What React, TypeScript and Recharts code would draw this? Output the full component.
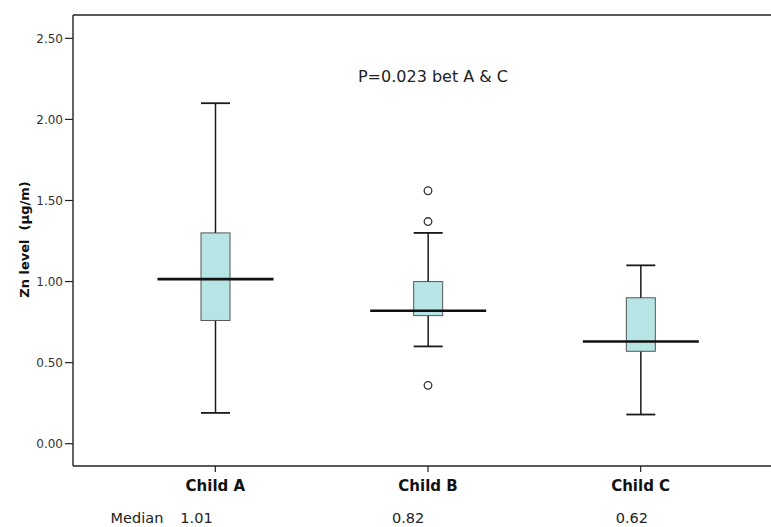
import React from 'react';
import { ComposedChart, Bar, Line, XAxis, YAxis, ReferenceLine, Customized } from 'recharts';

const CATEGORIES = ['Child A', 'Child B', 'Child C'];
const MIN_VALUES = [0.19, 0.6, 0.18];
const Q1_VALUES = [0.76, 0.79, 0.57];
const MEDIAN_VALUES = [1.015, 0.82, 0.63];
const Q3_VALUES = [1.3, 1.0, 0.9];
const MAX_VALUES = [2.1, 1.3, 1.1];
const MEDIAN_LABELS = ['1.01', '0.82', '0.62'];
const OUTLIER_1 = [null, 1.56, null];
const OUTLIER_2 = [null, 1.37, null];
const OUTLIER_3 = [null, 0.36, null];
const Y_TICKS = [0, 0.5, 1, 1.5, 2, 2.5];
const Y_MIN = -0.1375;
const Y_MAX = 2.644;

const FONT = '"DejaVu Sans", sans-serif';
const BOX_FILL = '#b7e5e5';
const MEDIAN_HALF = 58;
const MEDIAN_DX = [-35, -36, -25];

const data = CATEGORIES.map((name, i) => ({
  name,
  base: MIN_VALUES[i],
  lowWhisker: Q1_VALUES[i] - MIN_VALUES[i],
  lowBox: MEDIAN_VALUES[i] - Q1_VALUES[i],
  upBox: Q3_VALUES[i] - MEDIAN_VALUES[i],
  upWhisker: MAX_VALUES[i] - Q3_VALUES[i],
  out1: OUTLIER_1[i],
  out2: OUTLIER_2[i],
  out3: OUTLIER_3[i],
}));

const LowerWhisker = (p: any) => {
  const cx = p.x + p.width / 2;
  const yb = p.y + p.height;
  return (
    <g>
      <line x1={cx} x2={cx} y1={p.y} y2={yb} stroke="#1a1a1a" strokeWidth={1.5} />
      <line x1={p.x} x2={p.x + p.width} y1={yb} y2={yb} stroke="#1a1a1a" strokeWidth={1.8} />
    </g>
  );
};

const UpperWhisker = (p: any) => {
  const cx = p.x + p.width / 2;
  return (
    <g>
      <line x1={cx} x2={cx} y1={p.y} y2={p.y + p.height} stroke="#1a1a1a" strokeWidth={1.5} />
      <line x1={p.x} x2={p.x + p.width} y1={p.y} y2={p.y} stroke="#1a1a1a" strokeWidth={1.8} />
    </g>
  );
};

const LowerBox = (p: any) => (
  <rect x={p.x} y={p.y} width={p.width} height={p.height} fill={BOX_FILL} stroke="#555" strokeWidth={1} />
);

const UpperBox = (p: any) => {
  const cx = p.x + p.width / 2;
  const yb = p.y + p.height;
  return (
    <g>
      <rect x={p.x} y={p.y} width={p.width} height={p.height} fill={BOX_FILL} stroke="#555" strokeWidth={1} />
      <line x1={cx - MEDIAN_HALF} x2={cx + MEDIAN_HALF} y1={yb} y2={yb} stroke="#111" strokeWidth={2.6} />
    </g>
  );
};

const outlierDot = (p: any) => {
  if (p.value == null || p.cy == null || isNaN(p.cy)) return <g key={p.key} />;
  return <circle key={p.key} cx={p.cx} cy={p.cy} r={3.8} fill="#fff" stroke="#333" strokeWidth={1.3} />;
};

const CategoryTick = (p: any) => {
  const { x, y, payload, index } = p;
  return (
    <g>
      <text x={x} y={y + 17} textAnchor="middle" fontWeight="bold" fontSize={15} fontFamily={FONT} fill="#111">
        {payload.value}
      </text>
      {index === 0 && (
        <text x={x + MEDIAN_DX[index] - 17} y={y + 49} textAnchor="end" fontSize={14.5} fontFamily={FONT} fill="#222">
          Median
        </text>
      )}
      <text x={x + MEDIAN_DX[index]} y={y + 49} textAnchor="start" fontSize={14.5} fontFamily={FONT} fill="#222">
        {MEDIAN_LABELS[index]}
      </text>
    </g>
  );
};

const YLabel = (p: any) => {
  const vb = p.viewBox || { x: 0, y: 15, width: 73, height: 451 };
  const cx = vb.x + 29;
  const cy = vb.y + vb.height / 2 - 1;
  return (
    <text
      x={cx}
      y={cy}
      transform={`rotate(-90, ${cx}, ${cy})`}
      textAnchor="middle"
      fontWeight="bold"
      fontSize={13}
      fontFamily={FONT}
      fill="#111"
      style={{ whiteSpace: 'pre' }}
    >
      {'Zn level\u00a0\u00a0(µg/m)'}
    </text>
  );
};

const Annotation = () => (
  <text x={433} y={82} textAnchor="middle" fontSize={16} fontFamily={FONT} fill="#222">
    P=0.023 bet A &amp; C
  </text>
);

export default function App() {
  return (
    <div style={{ position: 'fixed', left: 0, top: 0, width: 771, height: 527, overflow: 'hidden', background: '#fff' }}>
      <ComposedChart width={800} height={527} data={data} margin={{ top: 15, right: 17, bottom: 0, left: 0 }}>
        <XAxis
          dataKey="name"
          type="category"
          height={61}
          padding={{ left: 36, right: 36 }}
          tickSize={6}
          tickMargin={2}
          axisLine={{ stroke: '#222', strokeWidth: 1.4 }}
          tickLine={{ stroke: '#222', strokeWidth: 1.2 }}
          tick={<CategoryTick />}
          interval={0}
        />
        <YAxis
          type="number"
          width={73}
          domain={[Y_MIN, Y_MAX]}
          allowDataOverflow
          ticks={Y_TICKS}
          tickFormatter={(v: number) => v.toFixed(2)}
          tickSize={8}
          tickMargin={2}
          axisLine={{ stroke: '#222', strokeWidth: 1.4 }}
          tickLine={{ stroke: '#222', strokeWidth: 1.2 }}
          tick={{ fontSize: 12, fill: '#333', fontFamily: FONT }}
          label={<YLabel />}
        />
        <ReferenceLine y={Y_MAX} stroke="#222" strokeWidth={1.4} ifOverflow="extendDomain" />
        <Bar dataKey="base" stackId="box" barSize={29} fill="transparent" isAnimationActive={false} />
        <Bar dataKey="lowWhisker" stackId="box" barSize={29} shape={<LowerWhisker />} isAnimationActive={false} />
        <Bar dataKey="lowBox" stackId="box" barSize={29} shape={<LowerBox />} isAnimationActive={false} />
        <Bar dataKey="upBox" stackId="box" barSize={29} shape={<UpperBox />} isAnimationActive={false} />
        <Bar dataKey="upWhisker" stackId="box" barSize={29} shape={<UpperWhisker />} isAnimationActive={false} />
        <Line dataKey="out1" stroke="none" dot={outlierDot} activeDot={false} isAnimationActive={false} legendType="none" />
        <Line dataKey="out2" stroke="none" dot={outlierDot} activeDot={false} isAnimationActive={false} legendType="none" />
        <Line dataKey="out3" stroke="none" dot={outlierDot} activeDot={false} isAnimationActive={false} legendType="none" />
        <Customized component={Annotation} />
      </ComposedChart>
    </div>
  );
}
